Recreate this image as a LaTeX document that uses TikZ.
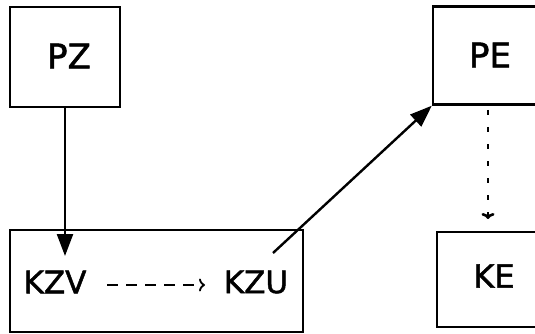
\documentclass[tikz,border=0pt]{standalone}
\usepackage{fontspec}
\setmainfont{DejaVu Sans}
\newfontfamily\lblfont{DejaVu Sans}[FakeBold=1.5]
\usetikzlibrary{arrows.meta}
\begin{document}
\begin{tikzpicture}[x=1pt,y=-1pt,
  box/.style={draw, line width=2.4pt, minimum width=#1, inner sep=0pt},
  biglbl/.style={font=\lblfont\fontsize{34}{34}\selectfont, inner sep=0pt},
  lbl/.style={font=\lblfont\fontsize{31}{31}\selectfont, inner sep=0pt},
  solidarrow/.style={line width=2.4pt, -{Triangle[length=22pt,width=16pt]}},
  dottedarrow/.style={line width=2.6pt, dash pattern=on 5pt off 12pt, -{To[length=6pt,width=13pt]}},
  dasharrow/.style={line width=1.8pt, dash pattern=on 11pt off 8pt, -{To[length=6pt,width=13pt]}}]
\clip (0,0) rectangle (535,334);
\useasboundingbox (0,0) rectangle (535,334);
\fill[white] (0,0) rectangle (535,334);
% boxes
\node[box=110pt, minimum height=100pt] (PZ) at (65,57) {};
\node[biglbl] (PZt) at (69,56) {PZ};
\node[box=293pt, minimum height=102pt] (KZ) at (156.5,281) {};
\node[box=112pt, minimum height=98pt] (PE) at (489,55.5) {};
\node[biglbl] (PEt) at (490,55) {PE};
\node[box=110pt, minimum height=95pt] (KE) at (492,279.5) {};
\node[font=\lblfont\fontsize{32}{32}\selectfont, inner sep=0pt] (KEt) at (494,276) {KE};
\node[lbl] (KZV) at (55,282) {KZV};
\node[lbl] (KZU) at (256,282) {KZU};
% connectors
\coordinate (a1) at (65,256);
\draw[solidarrow] (PZ.south -| a1) -- (a1);
\coordinate (s2) at (273,253);
\draw[solidarrow] (s2) -- (PE.south west);
\coordinate (d1) at (488,110);
\coordinate (d2) at (488,219);
\draw[dottedarrow] (d1) -- (d2);
\coordinate (e1) at (107,285);
\coordinate (e2) at (205,285);
\draw[dasharrow] (e1) -- (e2);
\end{tikzpicture}
\end{document}
